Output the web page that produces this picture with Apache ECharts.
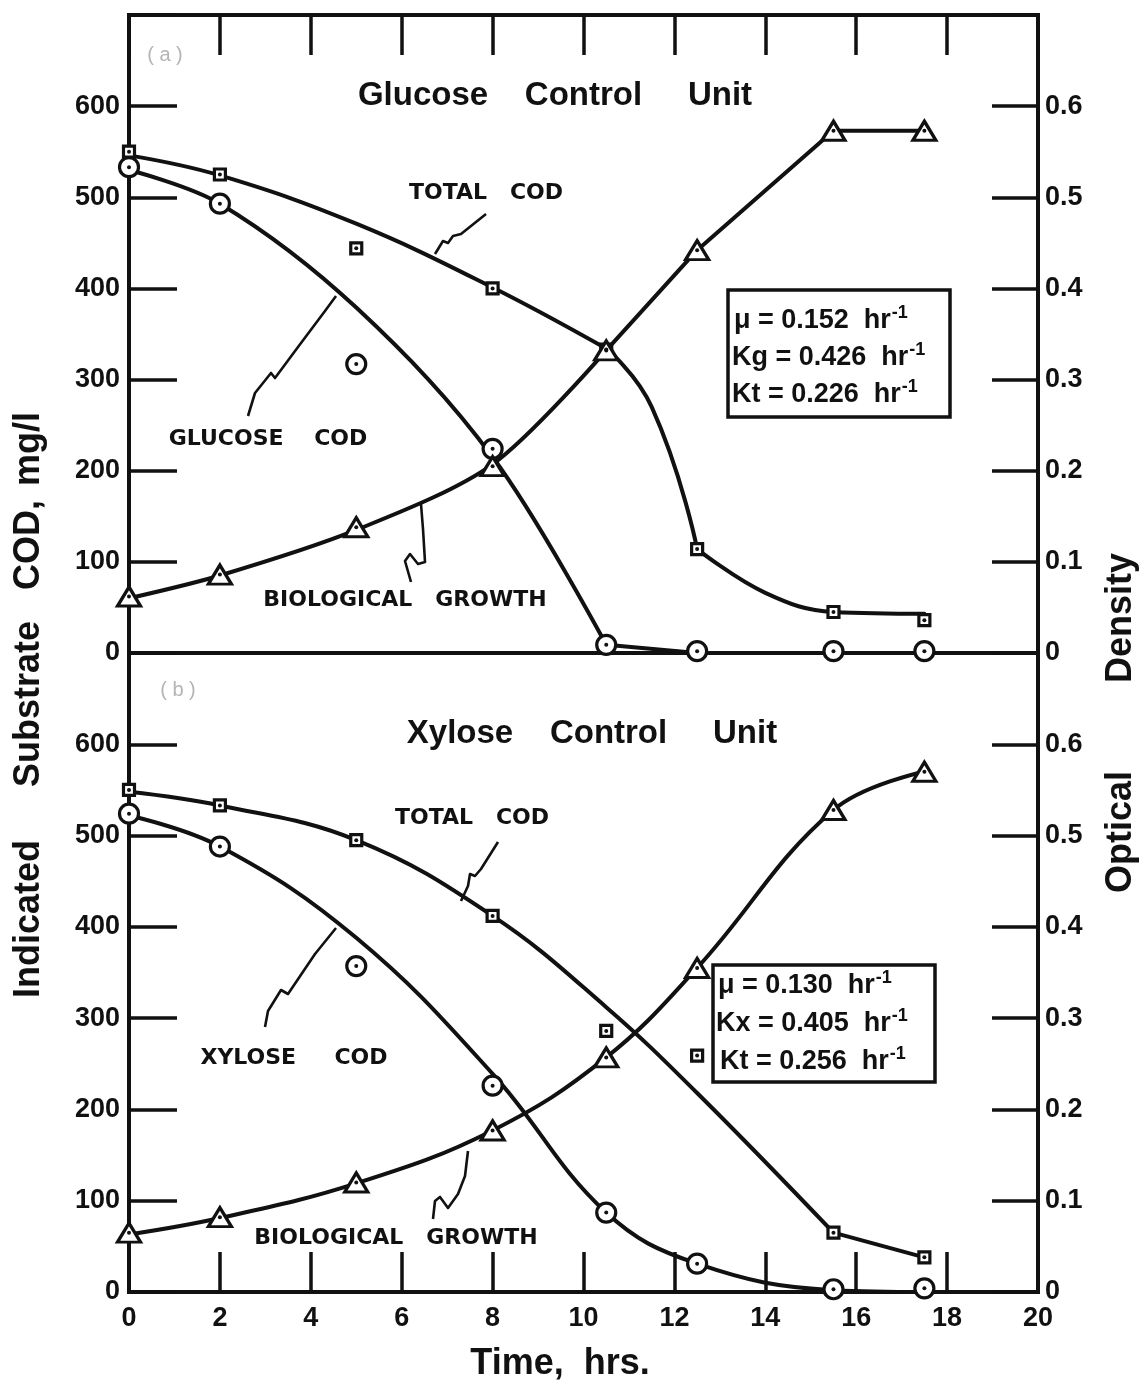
<!DOCTYPE html>
<html>
<head>
<meta charset="utf-8">
<title>Glucose and Xylose Control Units</title>
<script src="https://cdn.jsdelivr.net/npm/echarts@6/dist/echarts.min.js"></script>
<style>
  html, body { margin: 0; padding: 0; background: #fff; }
  #chart { width: 1144px; height: 1393px; }
</style>
</head>
<body>
<div id="chart"></div>
<script>
// sampling times (hrs)
const hours = [0, 2, 5, 8, 10.5, 12.5, 15.5, 17.5];

// (a) glucose control unit - measured points
const glucoseTotalCod = [550, 525, 444, 400, 333, 114, 45, 36];
const glucoseCod = [533, 493, 317, 224, 9, 2, 2, 2];
const glucoseGrowth = [0.062, 0.086, 0.138, 0.205, 0.332, 0.442, 0.573, 0.573];

// (a) hand drawn curves
const glucoseTotalFitHours = [0, 2, 5, 8, 10.5, 11.5, 12.5, 14, 15.5, 17.5];
const glucoseTotalFit = [546, 524, 471, 401, 334, 270, 114, 66, 45, 43];
const glucoseCodFit = [530, 493, 379, 215, 9, 0, 0, 0];
const glucoseGrowthFit = [0.060, 0.085, 0.135, 0.207, 0.332, 0.442, 0.573, 0.573];

// (b) xylose control unit - measured points
const xyloseTotalCod = [550, 533, 495, 412, 286, 259, 65, 38];
const xyloseCod = [524, 488, 357, 226, 87, 31, 3, 4];
const xyloseGrowth = [0.065, 0.082, 0.120, 0.177, 0.257, 0.355, 0.528, 0.570];

// (b) hand drawn curves
const xyloseTotalFit = [548, 533, 495, 412, 312, 218, 65, 38];
const xyloseCodFit = [522, 488, 388, 239, 87, 31, 2, 0];
const xyloseGrowthFit = [0.063, 0.081, 0.119, 0.177, 0.257, 0.355, 0.528, 0.570];

// axis ranges / tick labels
const timeRange = [0, 20, 2];
const codRange = [0, 700, 100];
const densityRange = [0, 0.7, 0.1];

const INK = '#111';
const LAB = '"Liberation Sans", Arial, sans-serif';
const ANN = '"DejaVu Sans", "Liberation Sans", sans-serif';

const chart = echarts.init(document.getElementById('chart'), null, { renderer: 'canvas' });

const pairs = (xs, ys) => xs.map((x, i) => [x, ys[i]]);

// fitted line, drawn in pieces where the hand drawn curve has a corner
// breaks: indices where a new piece starts, smooths: one value per piece
function curve(xs, ys, xi, yi, breaks, smooths) {
  const out = [];
  for (let p = 0; p < breaks.length - 1; p++) {
    const a = breaks[p], b = breaks[p + 1] + 1;
    out.push({
      type: 'line', xAxisIndex: xi, yAxisIndex: yi,
      data: pairs(xs.slice(a, b), ys.slice(a, b)), smooth: smooths[p], symbol: 'none',
      lineStyle: { color: INK, width: 4, cap: 'round', join: 'round' }, z: 2, silent: true
    });
  }
  return out;
}

// hollow marker + center dot
function marks(ys, xi, yi, symbol, size) {
  const data = pairs(hours, ys);
  return [
    {
      type: 'scatter', xAxisIndex: xi, yAxisIndex: yi, data, symbol, symbolSize: size, clip: false,
      itemStyle: { color: '#fff', borderColor: INK, borderWidth: 3.2, opacity: 1 }, z: 3, silent: true
    },
    {
      type: 'scatter', xAxisIndex: xi, yAxisIndex: yi, data, symbol: 'circle', symbolSize: 4, clip: false,
      itemStyle: { color: INK, opacity: 1 }, z: 4, silent: true
    }
  ];
}

function xAxisFor(gi, position, showLabels) {
  return {
    type: 'value', gridIndex: gi, position,
    min: timeRange[0], max: timeRange[1], interval: timeRange[2],
    axisLine: { show: true, onZero: false, lineStyle: { color: INK, width: 4 } },
    axisTick: { show: true, inside: true, length: 40, lineStyle: { color: INK, width: 3.5 } },
    axisLabel: { show: showLabels, color: INK, fontFamily: LAB, fontWeight: 'bold', fontSize: 27, margin: 13 },
    splitLine: { show: false }
  };
}

function codAxis(gi) {
  return {
    type: 'value', gridIndex: gi, position: 'left',
    min: codRange[0], max: codRange[1], interval: codRange[2],
    axisLine: { show: true, onZero: false, lineStyle: { color: INK, width: 4 } },
    axisTick: { show: true, inside: true, length: 48, lineStyle: { color: INK, width: 3.5 } },
    axisLabel: {
      color: INK, fontFamily: LAB, fontWeight: 'bold', fontSize: 27, margin: 9,
      formatter: v => (v >= codRange[1] ? '' : String(v))
    },
    splitLine: { show: false }
  };
}

function densityAxis(gi) {
  return {
    type: 'value', gridIndex: gi, position: 'right',
    min: densityRange[0], max: densityRange[1], interval: densityRange[2],
    axisLine: { show: true, onZero: false, lineStyle: { color: INK, width: 4 } },
    axisTick: { show: true, inside: true, length: 46, lineStyle: { color: INK, width: 3.5 } },
    axisLabel: {
      color: INK, fontFamily: LAB, fontWeight: 'bold', fontSize: 27, margin: 7,
      formatter: v => (v > 0.65 ? '' : v === 0 ? '0' : v.toFixed(1))
    },
    splitLine: { show: false }
  };
}

function label(text, x, y, font, extra, fill) {
  return Object.assign({
    type: 'text', x, y, silent: true, z: 10,
    style: { text, font, fill: fill || INK, align: 'center', verticalAlign: 'middle', textAlign: 'center', textVerticalAlign: 'middle' }
  }, extra || {});
}

// line of the rate constant box, with a raised "-1"
function rateLine(text, x, y) {
  return {
    type: 'text', x, y, silent: true, z: 10,
    style: {
      text: '{m|' + text + '}{s|-1}',
      align: 'left', verticalAlign: 'middle', textAlign: 'left', textVerticalAlign: 'middle',
      fill: INK,
      rich: {
        m: { fontFamily: LAB, fontWeight: 'bold', fontSize: 27, lineHeight: 32, verticalAlign: 'bottom', fill: INK, color: INK },
        s: { fontFamily: LAB, fontWeight: 'bold', fontSize: 18, lineHeight: 32, verticalAlign: 'bottom', padding: [0, 0, 12, 1], fill: INK, color: INK }
      }
    }
  };
}

function leader(points) {
  return {
    type: 'polyline', silent: true, z: 9,
    shape: { points },
    style: { stroke: INK, lineWidth: 2.6, fill: null, lineJoin: 'round' }
  };
}

const titleFont = 'bold 33px ' + LAB;
const annFont = 'bold 22px ' + ANN;
const axisFont = 'bold 36px ' + LAB;
const up = { rotation: Math.PI / 2 };

const option = {
  animation: false,
  backgroundColor: '#fff',
  grid: [
    { left: 129, top: 15, width: 909, height: 638, show: true, borderColor: INK, borderWidth: 4, backgroundColor: 'transparent', containLabel: false, outerBoundsMode: 'none' },
    { left: 129, top: 653, width: 909, height: 639, show: true, borderColor: INK, borderWidth: 4, backgroundColor: 'transparent', containLabel: false, outerBoundsMode: 'none' }
  ],
  xAxis: [xAxisFor(0, 'top', false), xAxisFor(1, 'bottom', true)],
  yAxis: [codAxis(0), densityAxis(0), codAxis(1), densityAxis(1)],
  series: [
    ...curve(glucoseTotalFitHours, glucoseTotalFit, 0, 0, [0, 4, 6, 9], [0.4, 0.5, 0.4]),
    ...curve(hours, glucoseCodFit, 0, 0, [0, 4, 7], [0.35, 0]),
    ...curve(hours, glucoseGrowthFit, 0, 1, [0, 4, 7], [0.3, 0]),
    ...marks(glucoseTotalCod, 0, 0, 'rect', 11),
    ...marks(glucoseCod, 0, 0, 'circle', 19),
    ...marks(glucoseGrowth, 0, 1, 'triangle', [23, 19]),

    ...curve(hours, xyloseTotalFit, 1, 2, [0, 6, 7], [0.4, 0]),
    ...curve(hours, xyloseCodFit, 1, 2, [0, 7], [0.4]),
    ...curve(hours, xyloseGrowthFit, 1, 3, [0, 7], [0.4]),
    ...marks(xyloseTotalCod, 1, 2, 'rect', 11),
    ...marks(xyloseCod, 1, 2, 'circle', 19),
    ...marks(xyloseGrowth, 1, 3, 'triangle', [23, 19])
  ],
  graphic: [
    // panel titles
    label('Glucose    Control     Unit', 555, 96, titleFont),
    label('Xylose    Control     Unit', 592, 734, titleFont),
    // pencilled panel letters
    label('( a )', 165, 55, '20px ' + LAB, null, '#b4b4b4'),
    label('( b )', 178, 690, '20px ' + LAB, null, '#b4b4b4'),

    // curve annotations
    label('TOTAL   COD', 486, 193, annFont),
    label('GLUCOSE    COD', 268, 439, annFont),
    label('BIOLOGICAL   GROWTH', 405, 600, annFont),
    label('TOTAL   COD', 472, 818, annFont),
    label('XYLOSE     COD', 294, 1058, annFont),
    label('BIOLOGICAL   GROWTH', 396, 1238, annFont),

    leader([[486, 214], [461, 234], [453, 236], [448, 243], [443, 241], [435, 254]]),
    leader([[248, 416], [255, 393], [271, 373], [275, 378], [301, 343], [325, 311], [336, 296]]),
    leader([[411, 582], [405, 561], [410, 554], [418, 564], [425, 562], [423, 529], [421, 504]]),
    leader([[498, 842], [481, 869], [475, 876], [470, 874], [468, 886], [461, 901]]),
    leader([[265, 1027], [268, 1011], [281, 990], [288, 994], [315, 954], [336, 928]]),
    leader([[433, 1219], [435, 1201], [440, 1197], [448, 1208], [458, 1194], [465, 1176], [468, 1151]]),

    // rate constant boxes
    {
      type: 'rect', silent: true, z: 8,
      shape: { x: 728, y: 290, width: 222, height: 127 },
      style: { fill: '#fff', stroke: INK, lineWidth: 3.5 }
    },
    rateLine('\u03bc = 0.152  hr', 734, 318),
    rateLine('Kg = 0.426  hr', 732, 355),
    rateLine('Kt = 0.226  hr', 732, 392),
    {
      type: 'rect', silent: true, z: 8,
      shape: { x: 713, y: 965, width: 222, height: 117 },
      style: { fill: '#fff', stroke: INK, lineWidth: 3.5 }
    },
    rateLine('\u03bc = 0.130  hr', 718, 983),
    rateLine('Kx = 0.405  hr', 716, 1021),
    rateLine('Kt = 0.256  hr', 720, 1059),

    // axis titles
    label('Time,  hrs.', 560, 1364, axisFont),
    label('Indicated', 29, 919, axisFont, up),
    label('Substrate', 29, 704, axisFont, up),
    label('COD,', 29, 545, axisFont, up),
    label('mg/l', 29, 449, axisFont, up),
    label('Optical', 1121, 832, axisFont, up),
    label('Density', 1121, 618, axisFont, up)
  ]
};

chart.setOption(option);
</script>
</body>
</html>
